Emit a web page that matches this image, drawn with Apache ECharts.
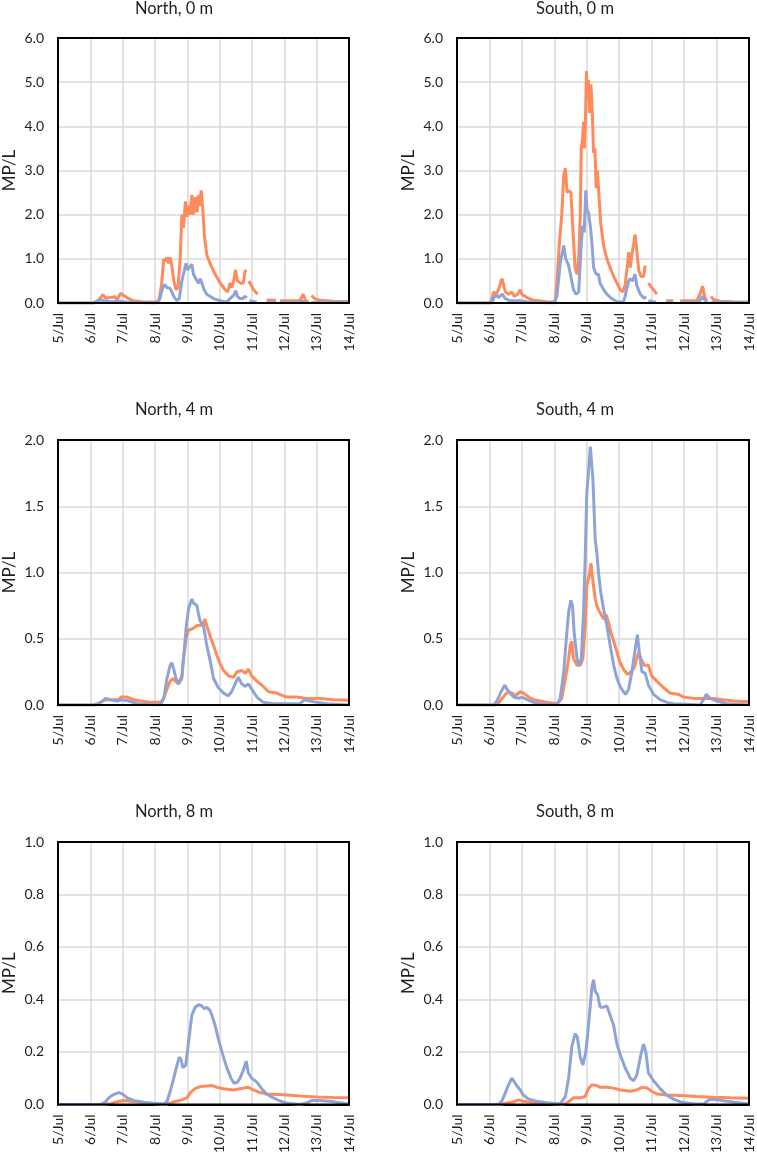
<!DOCTYPE html>
<html>
<head>
<meta charset="utf-8">
<script src="https://cdn.jsdelivr.net/npm/echarts@6/dist/echarts.min.js"></script>
<style>
html,body{margin:0;padding:0;background:#fff;}
#c{width:757px;height:1156px;}
</style>
</head>
<body>
<div id="c"></div>
<script>
// x values are days after 5/Jul 00:00
var xTickLabels = ['5/Jul','6/Jul','7/Jul','8/Jul','9/Jul','10/Jul','11/Jul','12/Jul','13/Jul','14/Jul'];
var panelTitles = ['North, 0 m','South, 0 m','North, 4 m','South, 4 m','North, 8 m','South, 8 m'];
var yMax = [6, 6, 2, 2, 1, 1];
var yStep = [1, 1, 0.5, 0.5, 0.2, 0.2];

// North, 0 m
var n0_orange_t = [0,1.1,1.27,1.39,1.47,1.57,1.68,1.76,1.83,1.93,1.99,2.09,2.19,2.34,2.6,3.0,3.12,3.2,3.27,3.32,3.37,3.42,3.47,3.53,3.58,3.65,3.71,3.78,3.83,3.88,3.94,3.99,4.04,4.09,4.14,4.19,4.25,4.3,4.35,4.38,4.43,4.48,4.53,4.6,4.7,4.86,5.02,5.17,5.25,5.32,5.37,5.43,5.49,5.55,5.65,5.73,5.79,5.81,5.85,5.9,6.05,6.17,6.3,6.45,6.74,6.8,6.87,7.48,7.58,7.66,7.74,7.79,7.84,7.94,8.1,8.5,9.0];
var n0_orange_v = [0,0,0.08,0.19,0.11,0.12,0.13,0.14,0.07,0.22,0.2,0.14,0.1,0.05,0.03,0.02,0.05,0.4,1.0,0.95,1.03,0.9,1.03,0.8,0.5,0.3,0.35,1.0,2.0,1.7,2.3,1.95,2.2,2.0,2.45,2.0,2.4,2.05,2.45,2.2,2.55,2.1,1.5,1.1,0.9,0.65,0.45,0.3,0.25,0.45,0.35,0.48,0.75,0.5,0.45,0.45,0.75,0.7,null,0.5,0.3,0.2,null,0.07,0.06,null,0.05,0.05,0.2,0.05,0.03,null,0.17,0.1,0.06,0.04,0.03];
var n0_blue_t = [0,1.1,1.32,1.42,1.62,1.93,2.14,2.5,3.06,3.15,3.22,3.29,3.37,3.47,3.58,3.68,3.75,3.83,3.88,3.96,4.01,4.07,4.14,4.19,4.3,4.35,4.4,4.45,4.52,4.6,4.81,5.02,5.22,5.32,5.43,5.5,5.55,5.63,5.71,5.78,5.84,5.88,5.92,6.15,6.3,6.45,6.74,6.8,6.87,7.45,7.53,7.64,7.74,7.79,7.84,9.0];
var n0_blue_v = [0,0,0.07,0.05,0.03,0.04,0.02,0.01,0,0.1,0.3,0.42,0.35,0.33,0.15,0.05,0.1,0.5,0.48,0.9,0.75,0.75,0.88,0.65,0.5,0.45,0.55,0.45,0.3,0.2,0.1,0.05,0.02,0.1,0.17,0.28,0.15,0.1,0.1,0.15,0.12,null,0.05,0.02,null,0.01,0.01,null,0.01,0.01,0.05,0.02,0.01,null,0.01,0.01];

// South, 0 m
var s0_orange_t = [0,1.03,1.08,1.13,1.21,1.28,1.36,1.39,1.44,1.49,1.59,1.69,1.77,1.83,1.87,1.95,2.0,2.05,2.16,2.36,2.77,3.03,3.08,3.16,3.23,3.29,3.34,3.39,3.45,3.51,3.57,3.64,3.7,3.75,3.8,3.83,3.87,3.9,3.93,3.96,3.99,4.02,4.05,4.09,4.13,4.17,4.21,4.25,4.29,4.33,4.37,4.43,4.52,4.62,4.72,4.83,4.93,5.03,5.11,5.18,5.26,5.29,5.34,5.39,5.44,5.49,5.54,5.6,5.67,5.75,5.8,5.85,5.9,6.16,6.3,6.45,6.67,6.78,6.88,7.39,7.49,7.57,7.63,7.7,7.77,7.83,7.9,8.11,8.52,9.0];
var s0_orange_v = [0,0,0.1,0.25,0.2,0.3,0.5,0.55,0.4,0.25,0.2,0.25,0.15,0.12,0.2,0.3,0.2,0.22,0.12,0.06,0.03,0.02,0.5,1.4,2.0,2.9,3.05,2.5,2.55,2.5,1.7,0.8,0.65,1.0,2.0,3.5,3.7,4.1,3.5,4.2,5.25,4.6,5.05,4.3,4.95,4.3,3.4,3.5,2.6,3.0,2.5,1.8,1.3,1.0,0.8,0.6,0.45,0.3,0.25,0.4,0.9,1.15,0.8,1.1,1.3,1.55,1.2,0.75,0.6,0.6,0.85,null,0.45,0.2,null,0.05,0.05,null,0.05,0.05,0.2,0.38,0.15,0.05,null,0.15,0.08,0.04,0.03,0.02];
var s0_blue_t = [0,1.08,1.13,1.23,1.28,1.39,1.49,1.64,1.95,2.16,2.5,2.98,3.08,3.18,3.29,3.35,3.44,3.51,3.59,3.67,3.75,3.82,3.87,3.92,3.97,4.01,4.05,4.11,4.16,4.21,4.29,4.36,4.41,4.52,4.62,4.77,4.93,5.13,5.18,5.29,5.34,5.41,5.49,5.54,5.65,5.77,5.82,5.86,5.9,6.14,6.3,6.45,6.67,6.78,6.88,7.4,7.49,7.57,7.65,7.72,7.77,7.83,9.0];
var s0_blue_v = [0,0,0.12,0.18,0.12,0.2,0.1,0.05,0.05,0.03,0.01,0,0.15,0.9,1.3,1.0,0.85,0.6,0.3,0.2,0.25,1.2,1.75,1.6,2.55,2.1,2.05,1.75,1.35,0.8,0.65,0.65,0.45,0.3,0.2,0.1,0.03,0.02,0.15,0.5,0.55,0.5,0.65,0.4,0.2,0.1,0.15,null,0.05,0.02,null,0.01,0.01,null,0.01,0.01,0.05,0.15,0.05,0.01,null,0.01,0.01];

// North, 4 m
var n4_orange_t = [0,1.21,1.32,1.47,1.73,1.88,1.95,2.14,2.34,2.55,2.86,3.17,3.27,3.37,3.47,3.56,3.63,3.73,3.83,3.88,3.96,4.04,4.11,4.19,4.3,4.4,4.48,4.54,4.6,4.65,4.73,4.81,4.92,5.0,5.12,5.27,5.43,5.53,5.68,5.79,5.89,5.99,6.15,6.35,6.51,6.76,7.07,7.38,7.69,8.1,8.51,9.0];
var n4_orange_v = [0,0,0.02,0.04,0.04,0.04,0.06,0.06,0.04,0.03,0.02,0.02,0.05,0.12,0.18,0.2,0.18,0.16,0.2,0.35,0.5,0.57,0.57,0.58,0.6,0.6,0.6,0.65,0.6,0.6,0.5,0.45,0.37,0.32,0.26,0.22,0.21,0.25,0.26,0.24,0.27,0.22,0.18,0.14,0.1,0.09,0.06,0.06,0.05,0.05,0.04,0.035];
var n4_blue_t = [0,1.11,1.32,1.47,1.62,1.83,1.98,2.19,2.45,3.17,3.27,3.37,3.47,3.52,3.58,3.65,3.73,3.83,3.9,3.97,4.04,4.09,4.14,4.19,4.3,4.35,4.4,4.5,4.6,4.71,4.81,4.96,5.12,5.27,5.37,5.48,5.58,5.68,5.79,5.89,5.99,6.15,6.35,6.66,7.48,7.63,7.79,8.0,8.3,9.0];
var n4_blue_v = [0,0,0.02,0.05,0.04,0.03,0.04,0.03,0.01,0,0.05,0.2,0.3,0.32,0.27,0.2,0.16,0.22,0.4,0.6,0.73,0.74,0.8,0.77,0.75,0.68,0.63,0.6,0.45,0.33,0.2,0.13,0.09,0.07,0.1,0.16,0.21,0.16,0.14,0.16,0.12,0.06,0.02,0.01,0.01,0.04,0.03,0.02,0.01,0];

// South, 4 m
var s4_orange_t = [0,1.23,1.33,1.49,1.59,1.69,1.8,1.95,2.05,2.21,2.36,2.57,2.77,3.08,3.23,3.34,3.44,3.49,3.54,3.59,3.7,3.8,3.88,3.95,4.0,4.07,4.13,4.17,4.21,4.26,4.31,4.36,4.47,4.52,4.6,4.67,4.74,4.83,4.93,5.01,5.13,5.26,5.36,5.46,5.54,5.6,5.67,5.77,5.9,6.0,6.16,6.37,6.57,6.83,6.98,7.29,7.6,7.91,8.21,8.52,9.0];
var s4_orange_v = [0,0,0.03,0.08,0.1,0.09,0.07,0.1,0.09,0.06,0.04,0.03,0.02,0.01,0.05,0.2,0.35,0.45,0.48,0.35,0.3,0.3,0.35,0.6,0.9,0.97,1.07,0.97,0.97,0.8,0.75,0.72,0.67,0.65,0.68,0.62,0.55,0.48,0.4,0.33,0.27,0.23,0.25,0.28,0.35,0.4,0.35,0.3,0.3,0.22,0.18,0.13,0.09,0.08,0.06,0.05,0.05,0.05,0.04,0.03,0.025];
var s4_blue_t = [0,1.13,1.23,1.36,1.47,1.59,1.75,1.9,2.0,2.16,2.36,2.57,3.08,3.18,3.29,3.37,3.44,3.51,3.56,3.61,3.7,3.77,3.83,3.9,3.95,4.0,4.05,4.11,4.14,4.19,4.26,4.31,4.36,4.43,4.52,4.62,4.72,4.83,4.93,5.03,5.13,5.2,5.29,5.39,5.49,5.56,5.62,5.7,5.8,5.9,6.06,6.26,6.47,6.67,7.49,7.62,7.68,7.8,8.01,8.32,9.0];
var s4_blue_v = [0,0,0.03,0.1,0.15,0.1,0.06,0.05,0.06,0.04,0.02,0.01,0,0.05,0.25,0.5,0.7,0.79,0.75,0.55,0.35,0.3,0.35,0.7,1.1,1.6,1.75,1.95,1.95,1.7,1.25,1.15,1.0,0.85,0.72,0.6,0.45,0.3,0.2,0.14,0.1,0.08,0.12,0.25,0.42,0.53,0.4,0.25,0.24,0.15,0.08,0.04,0.02,0.01,0,0.05,0.08,0.05,0.03,0.01,0];

// North, 8 m
var n8_orange_t = [0,1.42,1.62,1.83,2.03,2.24,2.55,2.75,3.37,3.58,3.78,3.99,4.09,4.24,4.4,4.6,4.76,4.92,5.12,5.43,5.63,5.89,6.04,6.25,6.45,6.97,7.48,8.0,8.51,9.0];
var n8_orange_v = [0,0,0.003,0.01,0.015,0.012,0.008,0.004,0,0.01,0.015,0.025,0.045,0.06,0.068,0.07,0.072,0.065,0.06,0.055,0.06,0.065,0.055,0.045,0.04,0.037,0.032,0.028,0.026,0.025];
var n8_blue_t = [0,1.32,1.47,1.57,1.68,1.78,1.88,1.99,2.14,2.34,2.65,2.96,3.27,3.37,3.47,3.58,3.66,3.75,3.81,3.86,3.95,4.04,4.14,4.24,4.35,4.4,4.45,4.52,4.6,4.69,4.76,4.86,4.96,5.07,5.22,5.35,5.45,5.55,5.63,5.73,5.82,5.89,5.99,6.15,6.3,6.45,6.66,6.87,7.07,7.48,7.69,7.84,8.1,8.4,8.72,9.0];
var n8_blue_v = [0,0,0.01,0.025,0.035,0.04,0.045,0.04,0.025,0.015,0.008,0.004,0.002,0.01,0.05,0.1,0.14,0.18,0.17,0.14,0.15,0.24,0.34,0.37,0.38,0.385,0.375,0.365,0.37,0.36,0.34,0.3,0.25,0.2,0.14,0.1,0.08,0.085,0.1,0.13,0.165,0.12,0.1,0.085,0.06,0.04,0.025,0.013,0.005,0,0.005,0.015,0.015,0.012,0.006,0.002];

// South, 8 m
var s8_orange_t = [0,1.33,1.54,1.75,1.9,2.0,2.26,2.67,3.29,3.44,3.59,3.8,3.95,4.05,4.16,4.31,4.41,4.62,4.83,5.03,5.34,5.54,5.7,5.85,6.0,6.16,6.47,6.88,7.39,7.91,8.42,9.0];
var s8_orange_v = [0,0,0.005,0.01,0.017,0.013,0.008,0.004,0,0.01,0.025,0.025,0.03,0.06,0.075,0.072,0.065,0.065,0.062,0.055,0.05,0.055,0.065,0.063,0.05,0.04,0.036,0.034,0.03,0.027,0.025,0.023];
var s8_blue_t = [0,1.28,1.39,1.49,1.59,1.69,1.75,1.85,1.95,2.05,2.21,2.46,2.77,3.18,3.34,3.44,3.54,3.64,3.71,3.8,3.88,3.97,4.03,4.11,4.16,4.21,4.26,4.33,4.41,4.5,4.62,4.72,4.83,4.93,5.03,5.18,5.34,5.44,5.54,5.65,5.75,5.82,5.9,6.06,6.26,6.47,6.67,6.93,7.29,7.6,7.8,8.01,8.32,8.73,9.0];
var s8_blue_v = [0,0,0.015,0.045,0.075,0.1,0.1,0.07,0.055,0.035,0.02,0.012,0.006,0.002,0.03,0.1,0.22,0.27,0.255,0.18,0.15,0.2,0.27,0.38,0.45,0.475,0.43,0.42,0.37,0.37,0.375,0.34,0.3,0.23,0.19,0.14,0.1,0.09,0.11,0.18,0.23,0.2,0.12,0.09,0.06,0.035,0.02,0.008,0.002,0.002,0.02,0.018,0.012,0.005,0.002];

var orangeT = [n0_orange_t, s0_orange_t, n4_orange_t, s4_orange_t, n8_orange_t, s8_orange_t];
var orangeV = [n0_orange_v, s0_orange_v, n4_orange_v, s4_orange_v, n8_orange_v, s8_orange_v];
var blueT = [n0_blue_t, s0_blue_t, n4_blue_t, s4_blue_t, n8_blue_t, s8_blue_t];
var blueV = [n0_blue_v, s0_blue_v, n4_blue_v, s4_blue_v, n8_blue_v, s8_blue_v];

function pairs(t, v) {
  return t.map(function (x, i) { return [x, v[i] === null ? '-' : v[i]]; });
}

var FONT = 'Lato, "Open Sans", sans-serif';
var TXT = '#1f1f1f';
var ORANGE = '#FF8A5C';
var BLUE = '#8EA3D6';

var lefts = [57, 457];
var tops = [38, 440, 842];
var titleTops = [-5, 396, 798];
var titleCenters = [169, 570];
var W = 292, H = 265;

var grids = [], xAxes = [], yAxes = [], series = [], titles = [];
for (var p = 0; p < 6; p++) {
  var col = p % 2, row = Math.floor(p / 2);
  grids.push({ left: lefts[col], top: tops[row], width: W, height: H, show: true, z: 5,
    borderColor: '#000', borderWidth: 2, backgroundColor: 'transparent', containLabel: false });
  titles.push({ text: panelTitles[p], left: titleCenters[col], top: titleTops[row], textAlign: 'center',
    textStyle: { fontFamily: FONT, fontSize: 16.5, fontWeight: 'normal', color: TXT } });
  xAxes.push({ gridIndex: p, type: 'value', min: 0, max: 9, interval: 1,
    axisLine: { show: true, onZero: false, lineStyle: { color: '#000', width: 2 } }, axisTick: { show: false },
    splitLine: { show: true, lineStyle: { color: '#D9D9D9', width: 1.5 } },
    axisLabel: { rotate: 90, margin: 10, fontFamily: FONT, fontSize: 14, color: TXT,
      formatter: function (v) { return xTickLabels[Math.round(v)]; } } });
  yAxes.push({ gridIndex: p, type: 'value', min: 0, max: yMax[p], interval: yStep[p],
    name: 'MP/L', nameLocation: 'middle', nameGap: 40, nameRotate: 90,
    nameTextStyle: { fontFamily: FONT, fontSize: 17, color: TXT },
    axisLine: { show: true, lineStyle: { color: '#000', width: 2 } }, axisTick: { show: false },
    splitLine: { show: true, lineStyle: { color: '#D9D9D9', width: 1.5 } },
    axisLabel: { margin: 14, fontFamily: FONT, fontSize: 14, color: TXT,
      formatter: function (v) { return v.toFixed(1); } } });
  series.push({ type: 'line', xAxisIndex: p, yAxisIndex: p, data: pairs(orangeT[p], orangeV[p]),
    showSymbol: false, symbol: 'none', connectNulls: false, animation: false,
    lineStyle: { color: ORANGE, width: 3 }, itemStyle: { color: ORANGE }, z: 2 });
  series.push({ type: 'line', xAxisIndex: p, yAxisIndex: p, data: pairs(blueT[p], blueV[p]),
    showSymbol: false, symbol: 'none', connectNulls: false, animation: false,
    lineStyle: { color: BLUE, width: 3 }, itemStyle: { color: BLUE }, z: 3 });
}

var chart = echarts.init(document.getElementById('c'), null, { renderer: 'canvas' });
chart.setOption({
  animation: false,
  backgroundColor: '#fff',
  title: titles,
  grid: grids,
  xAxis: xAxes,
  yAxis: yAxes,
  series: series
});
</script>
</body>
</html>
